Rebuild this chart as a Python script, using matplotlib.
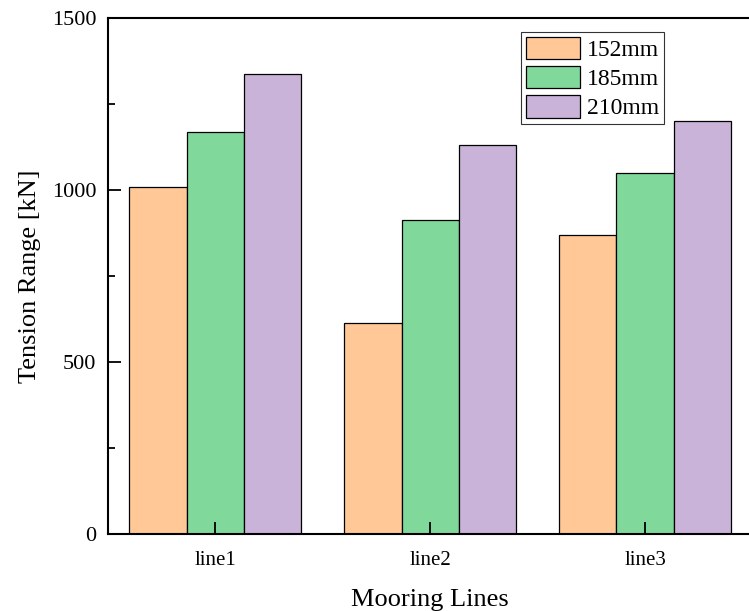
import numpy as np
import matplotlib.pyplot as plt
from matplotlib.ticker import MultipleLocator

# data
categories = ["line1", "line2", "line3"]
series_names = ["152mm", "185mm", "210mm"]
tension_152 = [1008, 612, 868]
tension_185 = [1170, 912, 1050]
tension_210 = [1336, 1132, 1200]
colors = ["#FFC896", "#80D99B", "#C9B3D8"]

plt.rcParams['font.family'] = ['Liberation Serif', 'DejaVu Serif']

fig = plt.figure(figsize=(7.49, 6.11), dpi=100)
ax = fig.add_axes([0.1442, 0.126, 0.8605, 0.8445])

x = np.arange(1, len(categories) + 1)
width = 0.8 / 3
for i, (vals, name) in enumerate(zip([tension_152, tension_185, tension_210], series_names)):
    ax.bar(x + (i - 1) * width, vals, width, color=colors[i], edgecolor='black',
           linewidth=0.9, label=name)

ax.set_xlim(0.5, 3.5)
ax.set_ylim(0, 1500)
ax.set_xticks(x)
ax.set_xticklabels(categories)
ax.yaxis.set_major_locator(MultipleLocator(500))
ax.yaxis.set_minor_locator(MultipleLocator(250))
ax.tick_params(axis='both', which='major', direction='in', length=9, width=1.3)
ax.tick_params(axis='x', labelsize=15, pad=12)
ax.tick_params(axis='y', labelsize=16, pad=8.5)
ax.tick_params(axis='y', which='minor', direction='in', length=5, width=1.3)
for s in ['left', 'bottom', 'top']:
    ax.spines[s].set_linewidth(1.5)
ax.spines['right'].set_visible(False)

ax.set_xlabel("Mooring Lines", fontsize=19, labelpad=14)
ax.set_ylabel("Tension Range [kN]", fontsize=19, labelpad=8)

leg = ax.legend(loc='upper left', bbox_to_anchor=(0.6956, 0.9476),
                bbox_transform=fig.transFigure, fontsize=17, frameon=True,
                fancybox=False, edgecolor='black', handlelength=2.3,
                handleheight=1.1, labelspacing=0.2, handletextpad=0.3,
                borderpad=0.2, borderaxespad=0)
leg.get_frame().set_linewidth(0.8)

fig.savefig("out.png", dpi=100)
